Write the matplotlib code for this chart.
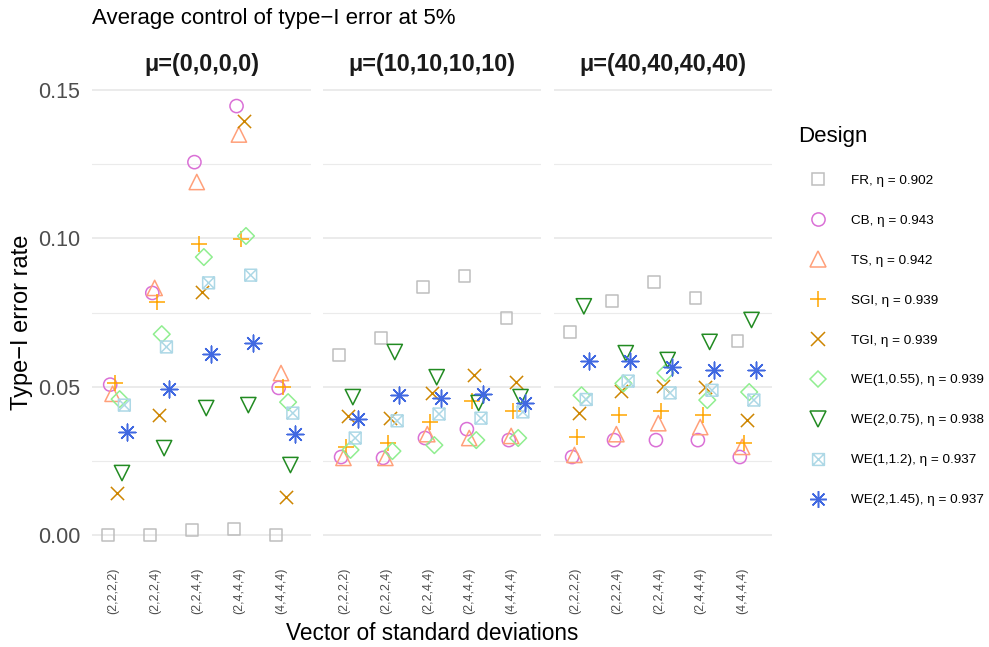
import matplotlib
matplotlib.use('Agg')
import matplotlib.pyplot as plt
import numpy as np
from matplotlib.path import Path
from matplotlib.lines import Line2D

plt.rcParams['font.family'] = ['Liberation Sans', 'DejaVu Sans']

# data
panels = ['μ=(0,0,0,0)', 'μ=(10,10,10,10)', 'μ=(40,40,40,40)']
sd_vectors = ['(2,2,2,2)', '(2,2,2,4)', '(2,2,4,4)', '(2,4,4,4)', '(4,4,4,4)']
designs = ['FR', 'CB', 'TS', 'SGI', 'TGI', 'WE(1,0.55)', 'WE(2,0.75)', 'WE(1,1.2)', 'WE(2,1.45)']
eta = [0.902, 0.943, 0.942, 0.939, 0.939, 0.939, 0.938, 0.937, 0.937]

# error rates per panel: rows = designs, columns = sd vectors
err_mu0 = [
    [0.000, 0.000, 0.0017, 0.0020, 0.000],
    [0.0507, 0.0816, 0.1257, 0.1446, 0.0496],
    [0.0476, 0.0833, 0.1190, 0.1350, 0.0546],
    [0.0512, 0.0785, 0.0980, 0.0998, 0.0499],
    [0.0142, 0.0404, 0.0819, 0.1395, 0.0128],
    [0.0458, 0.0677, 0.0937, 0.1008, 0.0448],
    [0.0209, 0.0293, 0.0428, 0.0438, 0.0236],
    [0.0438, 0.0634, 0.0850, 0.0876, 0.0411],
    [0.0347, 0.0492, 0.0610, 0.0647, 0.0340],
]
err_mu10 = [
    [0.0607, 0.0663, 0.0837, 0.0873, 0.0731],
    [0.0263, 0.0260, 0.0327, 0.0357, 0.0320],
    [0.0260, 0.0260, 0.0340, 0.0327, 0.0334],
    [0.0297, 0.0310, 0.0381, 0.0452, 0.0418],
    [0.0401, 0.0393, 0.0478, 0.0539, 0.0516],
    [0.0287, 0.0283, 0.0303, 0.0320, 0.0327],
    [0.0465, 0.0617, 0.0532, 0.0445, 0.0465],
    [0.0327, 0.0385, 0.0408, 0.0394, 0.0415],
    [0.0390, 0.0471, 0.0461, 0.0477, 0.0444],
]
err_mu40 = [
    [0.0684, 0.0789, 0.0853, 0.0799, 0.0654],
    [0.0263, 0.0320, 0.0320, 0.0320, 0.0263],
    [0.0270, 0.0340, 0.0377, 0.0364, 0.0297],
    [0.0330, 0.0404, 0.0418, 0.0404, 0.0310],
    [0.0411, 0.0485, 0.0502, 0.0498, 0.0388],
    [0.0471, 0.0511, 0.0546, 0.0455, 0.0482],
    [0.0771, 0.0613, 0.0590, 0.0651, 0.0725],
    [0.0457, 0.0519, 0.0479, 0.0488, 0.0455],
    [0.0587, 0.0587, 0.0566, 0.0558, 0.0558],
]
all_err = [err_mu0, err_mu10, err_mu40]

colors = ['#BEBEBE', '#DA70D6', '#FFA07A', '#FFA500', '#CD8500',
          '#90EE90', '#228B22', '#ADD8E6', '#4169E1']

# square with a cross inside (R shape 7)
box_x = Path([(-0.5, -0.5), (0.5, -0.5), (0.5, 0.5), (-0.5, 0.5), (-0.5, -0.5),
              (-0.5, -0.5), (0.5, 0.5), (-0.5, 0.5), (0.5, -0.5)],
             [Path.MOVETO, Path.LINETO, Path.LINETO, Path.LINETO, Path.CLOSEPOLY,
              Path.MOVETO, Path.LINETO, Path.MOVETO, Path.LINETO])
markers = ['s', 'o', '^', '+', 'x', 'D', 'v', box_x, (8, 2, 0)]
sizes = [8.5, 9.5, 11, 12, 9.5, 8.5, 11, 8.5, 12]
hollow = [True, True, True, False, False, True, True, True, False]

W, H = 989, 647
fig = plt.figure(figsize=(W / 100, H / 100), dpi=100)

def px_axes(x0, x1, ytop, ybot):
    return fig.add_axes([x0 / W, 1 - ybot / H, (x1 - x0) / W, (ybot - ytop) / H])

panel_x = [(92, 311), (323, 541), (554, 772)]
cat = np.arange(len(sd_vectors))
step = 0.056

for p, (x0, x1) in enumerate(panel_x):
    ax = px_axes(x0, x1, 85, 556.4)
    ax.set_xlim(-0.6, 4.6)
    ax.set_ylim(-0.0072, 0.1517)
    ax.set_yticks([0, 0.05, 0.10, 0.15])
    ax.set_yticks([0.025, 0.075, 0.125], minor=True)
    ax.grid(axis='y', which='major', color='#EBEBEB', lw=1.4)
    ax.grid(axis='y', which='minor', color='#EBEBEB', lw=0.8)
    ax.set_axisbelow(True)
    for s in ax.spines.values():
        s.set_visible(False)
    ax.tick_params(which='both', length=0)
    ax.set_xticks(cat - 0.1)
    ax.set_xticklabels(sd_vectors, rotation=90, fontsize=9, color='#4D4D4D')
    ax.tick_params(axis='x', pad=8)
    if p == 0:
        ax.set_yticklabels(['0.00', '0.05', '0.10', '0.15'], fontsize=15.5, color='#4D4D4D')
        ax.tick_params(axis='y', pad=8.5)
    else:
        ax.set_yticklabels([])
    for i in range(len(designs)):
        xs = cat + (i - 4) * step
        ys = all_err[p][i]
        if hollow[i]:
            ax.scatter(xs, ys, marker=markers[i], s=sizes[i] ** 2, facecolors='none',
                       edgecolors=colors[i], linewidths=1.1, zorder=3)
        else:
            ax.scatter(xs, ys, marker=markers[i], s=sizes[i] ** 2, c=colors[i],
                       linewidths=1.1, zorder=3)
    fig.text((x0 + x1) / 2 / W, 1 - 65 / H, panels[p], fontsize=16.8, fontweight='bold',
             color='#1A1A1A', ha='center', va='center')

fig.text(92 / W, 1 - 18.5 / H, 'Average control of type\u2212I error at 5%', fontsize=16,
         ha='left', va='center')
fig.text(22 / W, 1 - 322 / H, 'Type\u2212I error rate', fontsize=17, rotation=90,
         ha='center', va='center')
fig.text(432 / W, 1 - 633 / H, 'Vector of standard deviations', fontsize=16.3,
         ha='center', va='center')

handles = []
for i in range(len(designs)):
    if hollow[i]:
        h = Line2D([], [], ls='none', marker=markers[i], markersize=sizes[i],
                   markerfacecolor='none', markeredgecolor=colors[i], markeredgewidth=1.1)
    else:
        h = Line2D([], [], ls='none', marker=markers[i], markersize=sizes[i],
                   color=colors[i], markeredgewidth=1.1)
    handles.append(h)
labels = [f'{d}, \u03b7 = {e:.3f}' for d, e in zip(designs, eta)]
fig.legend(handles, labels, title='Design', loc='upper left',
           bbox_to_anchor=(798 / W, 1 - 126 / H), frameon=False, fontsize=9.7,
           title_fontsize=16, alignment='left', labelspacing=2.04,
           handletextpad=0.96, borderpad=0, borderaxespad=0, handlelength=2.96)

fig.savefig('out.png', dpi=100)
